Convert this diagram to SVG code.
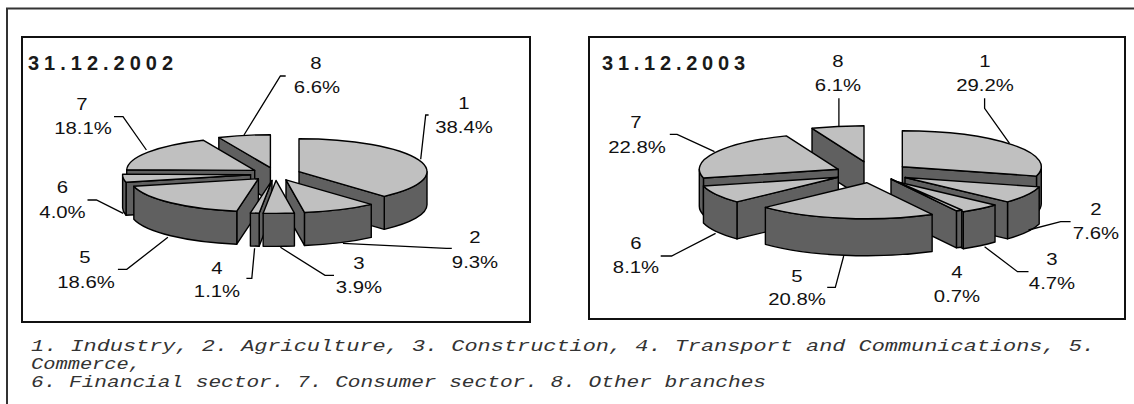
<svg xmlns="http://www.w3.org/2000/svg" width="1134" height="404" viewBox="0 0 1134 404">
  <style>
    .top { fill: #c0c0c0; stroke: #000; stroke-width: 1.4; stroke-linejoin: round; }
    .side { fill: #606060; stroke: #000; stroke-width: 1.4; stroke-linejoin: round; }
    .lab { font-family: "Liberation Sans", Arial, sans-serif; font-size: 16px; fill: #111; text-anchor: middle; }
    .ttl { font-family: "Liberation Sans", Arial, sans-serif; font-size: 20px; font-weight: bold; fill: #1a1a1a; }
    .foot { font-family: "Liberation Mono", "Courier New", monospace; font-style: italic; font-size: 16px; fill: #333; }
    .lead { fill: none; stroke: #000; stroke-width: 1.3; }
    .box { fill: #fff; stroke: #111; stroke-width: 2; }
    .frame { fill: none; stroke: #333; stroke-width: 2; }
  </style>

  <rect width="1134" height="404" fill="#fff"/>
  <path class="frame" d="M7,404 L7,8.5 L1134,8.5"/>

  <!-- ===== chart 31.12.2002 ===== -->
  <g id="chart-2002">
    <rect class="box" x="22" y="37" width="508" height="285"/>
    <text class="ttl" x="28" y="70" textLength="145" lengthAdjust="spacing">31.12.2002</text>

    <g id="c02-s8">
      <path class="side" d="M270.4,167.7 L218.82,137.5 L218.82,170.5 L270.4,200.7 Z"/>
      <path class="top" d="M270.4,167.7 L218.82,137.5 A128,33 0 0 1 270.4,134.7 Z"/>
      <text class="lab" x="316" y="69" textLength="11.3" lengthAdjust="spacingAndGlyphs">8</text>
      <text class="lab" x="317" y="93" textLength="46.3" lengthAdjust="spacingAndGlyphs">6.6%</text>
    </g>
    <g id="c02-s7">
      <path class="side" d="M254.7,170.4 L126.72,169.78 L126.72,202.78 L254.7,203.4 Z"/>
      <path class="top" d="M254.7,170.4 L126.72,169.78 A128,33 0 0 1 203.12,140.2 Z"/>
      <text class="lab" x="82" y="110" textLength="11.3" lengthAdjust="spacingAndGlyphs">7</text>
      <text class="lab" x="83" y="134" textLength="57.6" lengthAdjust="spacingAndGlyphs">18.1%</text>
    </g>
    <g id="c02-s1">
      <path class="side" d="M427,171.7 A128,33 0 0 1 384.26,196.32 L384.26,229.32 A128,33 0 0 0 427,204.7 Z"/>
      <path class="side" d="M299,171.7 L384.26,196.32 L384.26,229.32 L299,204.7 Z"/>
      <path class="top" d="M299,171.7 L299,138.7 A128,33 0 0 1 384.26,196.32 Z"/>
      <text class="lab" x="464" y="109" textLength="11.3" lengthAdjust="spacingAndGlyphs">1</text>
      <text class="lab" x="464" y="133" textLength="57.6" lengthAdjust="spacingAndGlyphs">38.4%</text>
    </g>
    <g id="c02-s6">
      <path class="side" d="M250.6,174.7 L126.04,182.3 L126.04,215.3 L250.6,207.7 Z"/>
      <path class="side" d="M126.04,182.3 A128,33 0 0 1 122.6,174.7 L122.6,207.7 A128,33 0 0 0 126.04,215.3 Z"/>
      <path class="top" d="M250.6,174.7 L126.04,182.3 A128,33 0 0 1 122.62,174.08 Z"/>
      <text class="lab" x="62.5" y="193" textLength="11.3" lengthAdjust="spacingAndGlyphs">6</text>
      <text class="lab" x="62.5" y="218" textLength="46.3" lengthAdjust="spacingAndGlyphs">4.0%</text>
    </g>
    <g id="c02-s5">
      <path class="side" d="M258.4,178.7 L236.79,211.23 L236.79,244.23 L258.4,211.7 Z"/>
      <path class="side" d="M236.79,211.23 A128,33 0 0 1 133.84,186.3 L133.84,219.3 A128,33 0 0 0 236.79,244.23 Z"/>
      <path class="top" d="M258.4,178.7 L236.79,211.23 A128,33 0 0 1 133.84,186.3 Z"/>
      <text class="lab" x="85" y="263" textLength="11.3" lengthAdjust="spacingAndGlyphs">5</text>
      <text class="lab" x="86" y="288" textLength="57.6" lengthAdjust="spacingAndGlyphs">18.6%</text>
    </g>
    <g id="c02-s2">
      <path class="side" d="M371.26,204.42 A128,33 0 0 1 304.43,212.46 L304.43,245.46 A128,33 0 0 0 371.26,237.42 Z"/>
      <path class="side" d="M286,179.8 L304.43,212.46 L304.43,245.46 L286,212.8 Z"/>
      <path class="top" d="M286,179.8 L371.26,204.42 A128,33 0 0 1 304.43,212.46 Z"/>
      <text class="lab" x="475" y="243" textLength="11.3" lengthAdjust="spacingAndGlyphs">2</text>
      <text class="lab" x="475" y="268" textLength="46.3" lengthAdjust="spacingAndGlyphs">9.3%</text>
    </g>
    <g id="c02-s4">
      <path class="side" d="M272,180.4 L259.15,213.23 L259.15,246.23 L272,213.4 Z"/>
      <path class="side" d="M259.15,213.23 A128,33 0 0 1 250.39,212.93 L250.39,245.93 A128,33 0 0 0 259.15,246.23 Z"/>
      <path class="top" d="M272,180.4 L259.15,213.23 A128,33 0 0 1 250.39,212.93 Z"/>
      <text class="lab" x="217" y="274" textLength="11.3" lengthAdjust="spacingAndGlyphs">4</text>
      <text class="lab" x="217" y="297" textLength="46.3" lengthAdjust="spacingAndGlyphs">1.1%</text>
    </g>
    <g id="c02-s3">
      <path class="side" d="M294.43,213.06 A128,33 0 0 1 263.15,213.23 L263.15,246.23 A128,33 0 0 0 294.43,246.06 Z"/>
      <path class="top" d="M276,180.4 L294.43,213.06 A128,33 0 0 1 263.15,213.23 Z"/>
      <text class="lab" x="359" y="269" textLength="11.3" lengthAdjust="spacingAndGlyphs">3</text>
      <text class="lab" x="359" y="293" textLength="46.3" lengthAdjust="spacingAndGlyphs">3.9%</text>
    </g>
  </g>

  <!-- ===== chart 31.12.2003 ===== -->
  <g id="chart-2003">
    <rect class="box" x="589" y="37" width="536" height="282"/>
    <text class="ttl" x="602" y="70" textLength="143" lengthAdjust="spacing">31.12.2003</text>

    <g id="c03-s8">
      <path class="side" d="M864,161.7 L812.02,128.31 L812.02,165.31 L864,198.7 Z"/>
      <path class="top" d="M864,161.7 L812.02,128.31 A139,36 0 0 1 864,125.7 Z"/>
      <text class="lab" x="838" y="67" textLength="11.3" lengthAdjust="spacingAndGlyphs">8</text>
      <text class="lab" x="838" y="91" textLength="46.3" lengthAdjust="spacingAndGlyphs">6.1%</text>
    </g>
    <g id="c03-s1">
      <path class="side" d="M1041.3,166.7 A139,36 0 0 1 1036.49,176.09 L1036.49,213.09 A139,36 0 0 0 1041.3,203.7 Z"/>
      <path class="side" d="M902.3,166.7 L1036.49,176.09 L1036.49,213.09 L902.3,203.7 Z"/>
      <path class="top" d="M902.3,166.7 L902.3,130.7 A139,36 0 0 1 1036.49,176.09 Z"/>
      <text class="lab" x="985" y="67" textLength="11.3" lengthAdjust="spacingAndGlyphs">1</text>
      <text class="lab" x="985" y="91" textLength="57.6" lengthAdjust="spacingAndGlyphs">29.2%</text>
    </g>
    <g id="c03-s7">
      <path class="side" d="M838.3,169.3 L703.45,178.03 L703.45,215.03 L838.3,206.3 Z"/>
      <path class="side" d="M703.45,178.03 A139,36 0 0 1 699.3,169.3 L699.3,206.3 A139,36 0 0 0 703.45,215.03 Z"/>
      <path class="top" d="M838.3,169.3 L703.45,178.03 A139,36 0 0 1 786.32,135.91 Z"/>
      <text class="lab" x="636" y="128" textLength="11.3" lengthAdjust="spacingAndGlyphs">7</text>
      <text class="lab" x="637" y="152.7" textLength="57.6" lengthAdjust="spacingAndGlyphs">22.8%</text>
    </g>
    <g id="c03-s6">
      <path class="side" d="M838.3,177.3 L736.97,201.94 L736.97,238.94 L838.3,214.3 Z"/>
      <path class="side" d="M736.97,201.94 A139,36 0 0 1 703.45,186.03 L703.45,223.03 A139,36 0 0 0 736.97,238.94 Z"/>
      <path class="top" d="M838.3,177.3 L736.97,201.94 A139,36 0 0 1 703.45,186.03 Z"/>
      <text class="lab" x="636" y="249" textLength="11.3" lengthAdjust="spacingAndGlyphs">6</text>
      <text class="lab" x="636" y="273" textLength="46.3" lengthAdjust="spacingAndGlyphs">8.1%</text>
    </g>
    <g id="c03-s2">
      <path class="side" d="M1039.19,186.89 A139,36 0 0 1 1007.52,201.81 L1007.52,238.81 A139,36 0 0 0 1039.19,223.89 Z"/>
      <path class="side" d="M905,177.5 L1007.52,201.81 L1007.52,238.81 L905,214.5 Z"/>
      <path class="top" d="M905,177.5 L1039.19,186.89 A139,36 0 0 1 1007.52,201.81 Z"/>
      <text class="lab" x="1096" y="215" textLength="11.3" lengthAdjust="spacingAndGlyphs">2</text>
      <text class="lab" x="1096" y="239" textLength="46.3" lengthAdjust="spacingAndGlyphs">7.6%</text>
    </g>
    <g id="c03-s3">
      <path class="side" d="M995.02,205.01 A139,36 0 0 1 963.26,211.69 L963.26,248.69 A139,36 0 0 0 995.02,242.01 Z"/>
      <path class="side" d="M892.5,180.7 L963.26,211.69 L963.26,248.69 L892.5,217.7 Z"/>
      <path class="top" d="M892.5,180.7 L995.02,205.01 A139,36 0 0 1 963.26,211.69 Z"/>
      <text class="lab" x="1052" y="265" textLength="11.3" lengthAdjust="spacingAndGlyphs">3</text>
      <text class="lab" x="1052" y="289" textLength="46.3" lengthAdjust="spacingAndGlyphs">4.7%</text>
    </g>
    <g id="c03-s4">
      <path class="side" d="M961.76,209.99 A139,36 0 0 1 956.43,210.76 L956.43,247.76 A139,36 0 0 0 961.76,246.99 Z"/>
      <path class="side" d="M891,179 L956.43,210.76 L956.43,247.76 L891,216 Z"/>
      <path class="top" d="M891,179 L961.76,209.99 A139,36 0 0 1 956.43,210.76 Z"/>
      <text class="lab" x="957" y="278" textLength="11.3" lengthAdjust="spacingAndGlyphs">4</text>
      <text class="lab" x="957" y="302" textLength="46.3" lengthAdjust="spacingAndGlyphs">0.7%</text>
    </g>
    <g id="c03-s5">
      <path class="side" d="M932.13,214.46 A139,36 0 0 1 765.37,207.34 L765.37,244.34 A139,36 0 0 0 932.13,251.46 Z"/>
      <path class="top" d="M866.7,182.7 L932.13,214.46 A139,36 0 0 1 765.37,207.34 Z"/>
      <text class="lab" x="797" y="282" textLength="11.3" lengthAdjust="spacingAndGlyphs">5</text>
      <text class="lab" x="797" y="305" textLength="57.6" lengthAdjust="spacingAndGlyphs">20.8%</text>
    </g>
  </g>

  <!-- leader lines from labels to slices -->
  <g id="connectors">
    <path class="lead" d="M285.7,76 L280.4,76 L244,135"/>
    <path class="lead" d="M114,116.7 L123,116.7 L146.4,150"/>
    <path class="lead" d="M428.6,115 L425.7,115 L420.7,159.3"/>
    <path class="lead" d="M87.5,200 L96.4,200 L123.2,213.3"/>
    <path class="lead" d="M117.9,269.3 L126.8,269.3 L167.9,237.3"/>
    <path class="lead" d="M246.4,278.3 L251.8,278.3 L254.6,248.3"/>
    <path class="lead" d="M280.4,247.3 L325,275.3 L334,275.3"/>
    <path class="lead" d="M342.9,243.3 L446.4,248.3 L451.8,248.3"/>

    <path class="lead" d="M838.9,98.3 L838.9,126.7"/>
    <path class="lead" d="M984.6,98.3 L984.6,108.3 L1009.5,143.3"/>
    <path class="lead" d="M669.8,134.3 L677.1,134.3 L714.5,151.7"/>
    <path class="lead" d="M660.7,256 L671.6,256 L715.6,233.3"/>
    <path class="lead" d="M827.2,287.3 L835.3,287.3 L843.7,256"/>
    <path class="lead" d="M984.6,246.7 L1017.5,271.7 L1028.5,271.7"/>
    <path class="lead" d="M1070.6,221.7 L1060.7,221.7 L1028.5,230"/>
  </g>

  <!-- legend of branch numbers -->
  <g id="legend">
    <text class="foot" x="31" y="351" textLength="1064" lengthAdjust="spacingAndGlyphs">1. Industry, 2. Agriculture, 3. Construction, 4. Transport and Communications, 5.</text>
    <text class="foot" x="31" y="369" textLength="110" lengthAdjust="spacingAndGlyphs">Commerce,</text>
    <text class="foot" x="31" y="387" textLength="735" lengthAdjust="spacingAndGlyphs">6. Financial sector. 7. Consumer sector. 8. Other branches</text>
  </g>
</svg>
